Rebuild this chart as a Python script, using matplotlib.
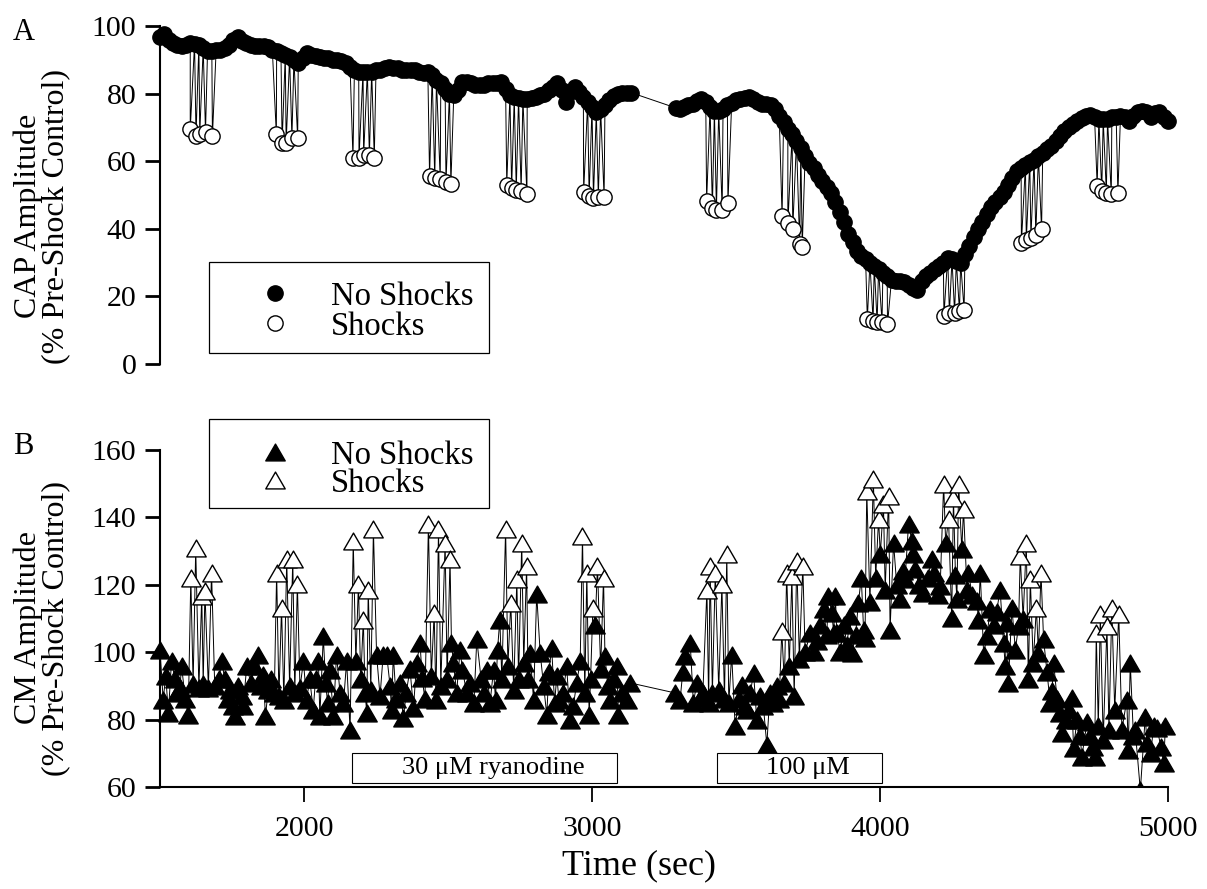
import numpy as np
import matplotlib
matplotlib.use("Agg")
import matplotlib.pyplot as plt
from matplotlib.lines import Line2D
from matplotlib.patches import Rectangle
from matplotlib.path import Path

plt.rcParams['font.family'] = ['Liberation Serif', 'DejaVu Serif']

# ---------------- Panel A data (CAP amplitude) ----------------
capA_start1 = 1500
capA_vals1 = [96.8, 97.5, 96.0, 95.0, 94.3, 94.0, 94.5, 95.0, 94.8, 94.5,
              93.5, 92.5, 92.5, 93.0, 93.0, 93.5, 94.5, 96.0, 96.8, 95.5,
              95.0, 94.5, 94.0, 94.0, 94.0, 93.8, 93.0, 92.5, 92.0, 91.5,
              90.8, 90.0, 89.0, 90.5, 92.0, 91.5, 91.0, 90.8, 90.5, 90.5,
              90.0, 89.8, 89.5, 89.0, 88.0, 87.0, 86.5, 86.5, 86.5, 86.5,
              87.0, 87.0, 87.5, 88.0, 87.5, 87.5, 87.0, 87.0, 87.0, 87.0,
              86.5, 86.0, 86.5, 85.5, 84.0, 83.0, 81.5, 80.0, 79.5, 81.0,
              83.5, 83.5, 83.0, 82.5, 82.5, 82.5, 83.0, 83.0, 83.0, 83.5,
              81.5, 79.5, 79.0, 78.8, 78.5, 78.3, 78.8, 79.0, 79.5, 80.0,
              81.0, 82.0, 83.0, 81.0, 77.5, 80.5, 82.0, 80.5, 79.0, 77.5,
              76.0, 74.5, 75.3, 76.5, 78.0, 79.3, 79.8, 80.2, 80.3, 80.3]
capA_start2 = 3290
capA_vals2 = [75.8, 75.3, 76.0, 76.5, 77.0, 77.8, 78.3, 77.5, 76.0, 75.0,
              74.8, 75.5, 76.5, 77.3, 78.0, 78.5, 78.8, 79.0, 78.5, 77.5,
              76.8, 77.0, 76.5, 75.5, 73.5, 71.5, 69.5, 68.0, 66.0, 64.0,
              61.5, 59.5, 58.0, 56.0, 54.0, 52.5, 50.5, 48.0, 45.0, 42.0,
              38.5, 36.0, 33.5, 32.0, 31.0, 30.0, 29.0, 28.0, 27.0, 26.0,
              25.0, 24.5, 24.5, 24.3, 23.5, 22.5, 22.0, 24.5, 26.0, 27.0,
              28.0, 29.0, 30.0, 31.5, 31.0, 30.5, 30.0, 32.5, 35.0, 37.5,
              40.0, 42.0, 44.5, 46.5, 48.0, 49.5, 51.0, 53.0, 55.0, 57.0,
              58.0, 59.0, 59.8, 60.5, 61.5, 62.5, 63.5, 64.5, 66.0, 67.5,
              69.0, 70.0, 71.0, 72.0, 72.8, 73.5, 73.8, 73.0, 72.5, 72.4,
              72.5, 73.0, 73.2, 73.4, 73.0, 72.0, 73.5, 74.5, 74.8, 74.5,
              73.0, 74.3, 74.5, 73.0, 72.0]
capA_step = 15

capA_shock_t = [1605, 1625, 1638, 1658, 1682,
                1904, 1924, 1938, 1958, 1978,
                2170, 2191, 2207, 2227, 2244,
                2436, 2454, 2473, 2493, 2510,
                2704, 2721, 2737, 2754, 2774,
                2971, 2990, 3005, 3022, 3042,
                3398, 3418, 3432, 3452, 3472,
                3660, 3680, 3697, 3721, 3730,
                3956, 3976, 3990, 4007, 4026,
                4222, 4241, 4259, 4276, 4292,
                4491, 4508, 4524, 4541, 4561,
                4754, 4770, 4786, 4803, 4826]
capA_shock_v = [69.4, 67.4, 68.1, 68.6, 67.4,
                67.9, 65.5, 65.3, 66.9, 66.9,
                61.0, 61.0, 61.7, 61.7, 61.0,
                55.6, 55.1, 54.6, 53.8, 53.3,
                53.1, 52.1, 51.6, 51.2, 50.2,
                50.9, 49.7, 49.2, 49.4, 49.4,
                48.2, 46.2, 45.7, 45.7, 47.5,
                43.7, 41.6, 39.8, 35.4, 34.7,
                13.2, 12.7, 12.4, 12.4, 11.7,
                14.3, 15.1, 15.1, 15.6, 16.1,
                35.8, 36.6, 37.3, 38.3, 39.8,
                52.8, 51.2, 50.7, 50.2, 50.5]

# ---------------- Panel B data (CM amplitude) ----------------
cmB_t = [1500, 1511, 1520, 1529, 1540, 1552, 1560, 1569, 1575, 1588,
         1598, 1615, 1635, 1650, 1668, 1690, 1705, 1714, 1725, 1735,
         1743, 1752, 1760, 1772, 1783, 1789, 1801, 1815, 1828, 1841,
         1850, 1859, 1866, 1876, 1887, 1897, 1913, 1930, 1950, 1968,
         1986, 1998, 2009, 2020, 2032, 2040, 2050, 2055, 2067, 2075,
         2082, 2090, 2102, 2113, 2125, 2137, 2148, 2160, 2180, 2197,
         2212, 2218, 2232, 2252, 2264, 2275, 2287, 2299, 2304, 2310,
         2320, 2333, 2345, 2355, 2368, 2380, 2391, 2403, 2410, 2420,
         2442, 2458, 2475, 2497, 2512, 2519, 2530, 2542, 2550, 2565,
         2577, 2590, 2600, 2615, 2625, 2634, 2646, 2658, 2665, 2672,
         2680, 2687, 2708, 2728, 2745, 2763, 2778, 2785, 2797, 2808,
         2820, 2832, 2843, 2850, 2860, 2870, 2878, 2885, 2900, 2912,
         2924, 2935, 2947, 2959, 2975, 2990, 2995, 3011, 3030, 3045,
         3055, 3063, 3075, 3086, 3092, 3105, 3121, 3132,
         3289, 3306, 3315, 3323, 3341, 3352, 3364, 3375, 3385, 3405,
         3418, 3440, 3460, 3475, 3485, 3497, 3510, 3520, 3530, 3538,
         3550, 3561, 3572, 3584, 3595, 3607, 3618, 3630, 3642, 3650,
         3668, 3685, 3702, 3720, 3740, 3758, 3770, 3781, 3790, 3804,
         3815, 3821, 3833, 3839, 3845, 3850, 3862, 3875, 3885, 3896,
         3902, 3915, 3925, 3935, 3943, 3948, 3965, 3985, 4001, 4018,
         4035, 4047, 4058, 4070, 4080, 4087, 4099, 4111, 4116, 4122,
         4135, 4151, 4165, 4180, 4186, 4200, 4209, 4228, 4249, 4262,
         4267, 4284, 4302, 4307, 4320, 4336, 4342, 4348, 4360, 4371,
         4383, 4395, 4405, 4417, 4429, 4435, 4441, 4446, 4458, 4470,
         4481, 4497, 4515, 4532, 4550, 4568, 4580, 4591, 4597, 4603,
         4615, 4626, 4632, 4645, 4655, 4666, 4672, 4684, 4695, 4701,
         4719, 4730, 4740, 4745, 4758, 4775, 4795, 4815, 4840, 4857,
         4862, 4869, 4880, 4886, 4904, 4921, 4927, 4940, 4950, 4962,
         4975, 4985, 4991]
cmB_v = [100.8, 85.9, 93.0, 81.9, 97.3, 92.0, 88.0, 89.4, 95.8, 86.0,
         81.4, 90.5, 89.5, 90.5, 89.5, 90.0, 92.0, 97.3, 92.0, 86.0,
         88.9, 84.0, 81.0, 90.0, 86.9, 83.9, 95.8, 91.0, 96.0, 99.3,
         90.0, 93.3, 81.0, 88.9, 92.0, 88.0, 86.9, 85.9, 90.0, 88.0,
         89.4, 97.3, 85.9, 92.0, 82.9, 91.9, 97.3, 81.0, 104.7, 90.9,
         84.9, 94.8, 81.0, 99.3, 88.0, 84.9, 97.3, 77.0, 97.3, 91.9,
         88.0, 82.0, 88.9, 99.3, 86.9, 99.3, 99.3, 89.9, 82.9, 99.3,
         86.0, 90.9, 80.4, 88.0, 95.0, 83.4, 96.8, 102.8, 92.4, 86.0,
         93.0, 85.9, 90.0, 92.0, 102.8, 96.8, 88.0, 100.8, 94.8, 87.9,
         90.9, 85.0, 103.8, 92.0, 88.0, 94.8, 84.9, 94.8, 85.9, 100.8,
         109.7, 91.9, 96.0, 88.9, 92.0, 96.8, 91.9, 99.8, 85.9, 117.2,
         99.8, 90.0, 81.4, 94.0, 101.3, 85.0, 92.9, 85.9, 88.0, 95.8,
         79.9, 84.0, 90.9, 97.3, 88.0, 81.4, 91.9, 108.2, 95.0, 98.8,
         90.0, 85.9, 92.0, 95.8, 81.4, 88.0, 85.9, 90.9,
         87.9, 85.9, 94.0, 98.8, 102.8, 84.9, 90.9, 86.0, 88.0, 85.0,
         88.0, 88.9, 86.0, 84.9, 99.3, 78.0, 86.0, 90.4, 84.0, 82.9,
         88.0, 93.9, 80.0, 86.9, 84.0, 72.5, 88.0, 84.9, 89.9, 86.0,
         90.9, 95.8, 86.9, 98.0, 100.0, 105.7, 100.0, 103.3, 108.0, 112.7,
         105.0, 116.7, 111.7, 105.7, 116.7, 105.7, 100.0, 108.0, 102.0, 110.7,
         99.8, 105.0, 114.7, 122.1, 106.7, 104.3, 115.0, 122.1, 129.1, 118.6,
         106.7, 132.5, 120.0, 115.7, 124.0, 121.6, 138.0, 133.0, 129.1, 124.6,
         120.0, 117.6, 122.0, 127.6, 123.6, 117.0, 119.6, 132.5, 110.2, 123.0,
         115.7, 130.5, 118.6, 123.6, 117.0, 115.2, 109.7, 123.6, 99.3, 104.8,
         112.7, 108.0, 112.0, 118.6, 102.8, 95.8, 108.7, 90.9, 113.2, 100.8,
         107.7, 110.0, 91.9, 96.8, 99.8, 103.8, 94.0, 84.9, 88.4, 96.8,
         86.0, 81.9, 76.0, 80.0, 82.9, 86.4, 71.5, 79.9, 75.0, 69.0,
         79.4, 75.0, 72.0, 69.0, 78.0, 74.0, 77.0, 82.9, 77.0, 85.9,
         71.0, 96.8, 75.0, 77.0, 59.0, 80.9, 73.0, 70.0, 78.0, 77.5,
         72.0, 67.1, 78.0]

cmB_shock_t = [1607, 1624, 1645, 1656, 1679,
               1905, 1922, 1940, 1961, 1977,
               2171, 2189, 2206, 2223, 2241,
               2432, 2452, 2467, 2490, 2507,
               2700, 2718, 2739, 2756, 2773,
               2967, 2982, 3003, 3019, 3040,
               3399, 3410, 3428, 3451, 3468,
               3659, 3676, 3694, 3711, 3732,
               3954, 3977, 3995, 4012, 4030,
               4221, 4238, 4255, 4273, 4290,
               4487, 4508, 4522, 4543, 4559,
               4751, 4765, 4788, 4805, 4829]
cmB_shock_v = [122.1, 130.8, 116.7, 118.1, 123.6,
               123.6, 113.2, 127.6, 127.6, 120.1,
               133.0, 120.1, 109.7, 118.6, 136.5,
               138.0, 111.7, 136.5, 132.5, 127.6,
               136.5, 114.7, 121.6, 132.5, 125.6,
               134.5, 123.6, 113.2, 125.6, 122.1,
               118.6, 125.6, 123.6, 120.1, 129.1,
               106.2, 123.6, 122.6, 127.1, 125.6,
               147.9, 151.4, 139.5, 143.9, 146.4,
               149.9, 139.5, 145.9, 149.9, 142.4,
               128.6, 132.5, 121.6, 113.2, 123.6,
               105.7, 111.2, 107.7, 113.2, 111.2]

drug_periods = [(2168, 3086, "30 \u03bcM ryanodine"), (3435, 4007, "100 \u03bcM")]

x_ticks = [2000, 3000, 4000, 5000]
yA_ticks = [0, 20, 40, 60, 80, 100]
yB_ticks = [60, 80, 100, 120, 140, 160]

# ---------------- figure ----------------
W, H = 1207, 889
fig = plt.figure(figsize=(W / 100, H / 100), dpi=100)


def rect(l, r, top, bottom):
    return [l / W, 1 - bottom / H, (r - l) / W, (bottom - top) / H]


axA = fig.add_axes(rect(160, 1168, 26, 364))
axB = fig.add_axes(rect(160, 1168, 450, 787))

TRI = Path([(-1, -0.866), (1, -0.866), (0, 0.866), (-1, -0.866)],
           [Path.MOVETO, Path.LINETO, Path.LINETO, Path.CLOSEPOLY])
FS = 21.5
CMS = 11     # circle marker size
TMS = 14     # triangle marker size


def merged(t1, v1, t2, v2):
    t = np.concatenate([t1, t2])
    v = np.concatenate([v1, v2])
    o = np.argsort(t, kind="stable")
    return t[o], v[o]


# Panel A
tA = np.concatenate([capA_start1 + capA_step * np.arange(len(capA_vals1)),
                     capA_start2 + capA_step * np.arange(len(capA_vals2))])
vA = np.array(capA_vals1 + capA_vals2)
lt, lv = merged(tA, vA, np.array(capA_shock_t, float), np.array(capA_shock_v))
axA.plot(lt, lv, color="black", lw=0.7, zorder=1, clip_on=False)
axA.plot(tA, vA, ls="none", marker="o", ms=CMS, mfc="black", mec="black",
         mew=1, zorder=2, clip_on=False)
axA.plot(capA_shock_t, capA_shock_v, ls="none", marker="o", ms=CMS, mfc="white",
         mec="black", mew=1, zorder=3, clip_on=False)
axA.set_xlim(1500, 5000)
axA.set_ylim(0, 100)
for s in ["top", "right", "bottom"]:
    axA.spines[s].set_visible(False)
axA.spines["left"].set_linewidth(1.5)
axA.set_xticks([])
axA.set_yticks(yA_ticks)
axA.tick_params(axis="y", direction="out", length=11, width=2, pad=6, labelsize=FS)

# Panel B
tB = np.array(cmB_t, float)
vB = np.array(cmB_v)
lt, lv = merged(tB, vB, np.array(cmB_shock_t, float), np.array(cmB_shock_v))
clipR = Rectangle((-0.05, 0), 1.1, 1.3, transform=axB.transAxes, visible=False)
axB.add_patch(clipR)
ln = axB.plot(lt, lv, color="black", lw=0.7, zorder=1)[0]
mk1 = axB.plot(tB, vB, ls="none", marker=TRI, ms=TMS, mfc="black", mec="black",
               mew=1, zorder=2)[0]
mk2 = axB.plot(cmB_shock_t, cmB_shock_v, ls="none", marker=TRI, ms=TMS, mfc="white",
               mec="black", mew=1, zorder=3)[0]
for a in (ln, mk1, mk2):
    a.set_clip_path(clipR)
axB.set_xlim(1500, 5000)
axB.set_ylim(60, 160)
for s in ["top", "right"]:
    axB.spines[s].set_visible(False)
axB.spines["left"].set_linewidth(1.5)
axB.spines["bottom"].set_linewidth(1.5)
axB.set_xticks(x_ticks)
axB.set_yticks(yB_ticks)
axB.tick_params(axis="y", direction="out", length=11, width=2, pad=6, labelsize=FS)
axB.tick_params(axis="x", direction="out", length=11, width=1.3, pad=10, labelsize=FS)

for (t0, t1, lab) in drug_periods:
    axB.add_patch(Rectangle((t0, 61.1), t1 - t0, 8.9, facecolor="white",
                            edgecolor="black", lw=0.8, zorder=4))
    axB.text((t0 + t1) / 2 + 30, 65.5, lab, ha="center", va="center",
             fontsize=19, zorder=5)


# pixel-space helpers
def fx(x):
    return x / W


def fy(y):
    return 1 - y / H


# x label
fig.text(fx(639), fy(866), "Time (sec)", fontsize=26, ha="center", va="center")

# legends
for (top, bot, r1, r2, mk, mms) in [(262, 353, 293, 323, "o", CMS),
                                    (419, 508, 452, 480, TRI, TMS)]:
    fig.add_artist(Rectangle((fx(208.5), fy(bot)), (489 - 208.5) / W, (bot - top) / H,
                             transform=fig.transFigure, facecolor="white",
                             edgecolor="black", lw=0.9))
    fig.add_artist(Line2D([fx(275)], [fy(r1)], transform=fig.transFigure, ls="none",
                          marker=mk, ms=mms, mfc="black", mec="black", mew=1))
    fig.add_artist(Line2D([fx(275)], [fy(r2)], transform=fig.transFigure, ls="none",
                          marker=mk, ms=mms, mfc="white", mec="black", mew=1))
    fig.text(fx(331), fy(r1), "No Shocks", fontsize=23.5, ha="left", va="center_baseline")
    fig.text(fx(331), fy(r2), "Shocks", fontsize=23.5, ha="left", va="center_baseline")

# y labels & panel letters
fig.text(fx(42), fy(216), "CAP Amplitude\n(% Pre-Shock Control)", rotation=90,
         ha="center", va="center", multialignment="center", fontsize=23, linespacing=0.95)
fig.text(fx(42), fy(628), "CM Amplitude\n(% Pre-Shock Control)", rotation=90,
         ha="center", va="center", multialignment="center", fontsize=23, linespacing=0.95)
fig.text(fx(24), fy(32), "A", fontsize=22, ha="center", va="center")
fig.text(fx(23), fy(447), "B", fontsize=22, ha="center", va="center")

fig.savefig("out.png", dpi=100)
